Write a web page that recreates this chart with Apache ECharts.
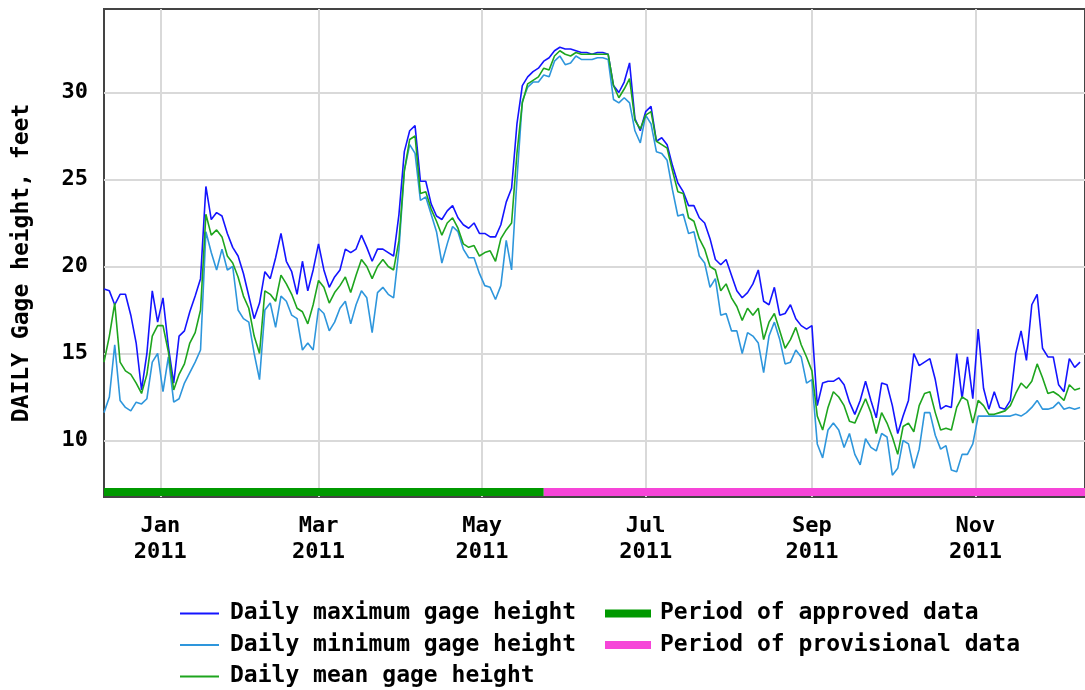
<!DOCTYPE html>
<html>
<head>
<meta charset="utf-8">
<script src="https://cdn.jsdelivr.net/npm/echarts@6/dist/echarts.min.js"></script>
<style>
  html, body { margin: 0; padding: 0; background: #fff; }
  #chart { width: 1085px; height: 690px; }
</style>
</head>
<body>
<div id="chart"></div>
<script>
// ---- Data, one value every 2 days from 2010-12-11 ----
const startYMD = [2010, 11, 11];   // 11 Dec 2010 (month is 0-based)
const stepDays = 2;

const maxGage = [
  18.7, 18.6, 17.8, 18.4, 18.4, 17.2, 15.6, 12.9, 15.0, 18.6, 16.8, 18.2, 15.4, 13.3, 16.0, 16.3, 17.4, 18.3, 19.3, 24.6,
  22.7, 23.1, 22.9, 21.9, 21.1, 20.6, 19.6, 18.3, 17.0, 17.9,
  19.7, 19.3, 20.5, 21.9, 20.3, 19.7, 18.4, 20.3, 18.6, 19.8,
  21.3, 19.8, 18.8, 19.4, 19.8, 21.0, 20.8, 21.0, 21.8, 21.1,
  20.3, 21.0, 21.0, 20.8, 20.6, 23.0, 26.6, 27.8, 28.1, 24.9,
  24.9, 23.6, 22.9, 22.7, 23.2, 23.5, 22.8, 22.4, 22.2, 22.5,
  21.9, 21.9, 21.7, 21.7, 22.4, 23.7, 24.5, 28.2, 30.4, 30.9,
  31.2, 31.4, 31.8, 32.0, 32.4, 32.6, 32.5, 32.5, 32.4, 32.3,
  32.3, 32.2, 32.3, 32.3, 32.2, 30.4, 30.0, 30.6, 31.7, 28.5,
  27.8, 28.9, 29.2, 27.2, 27.4, 27.0, 25.8, 24.8, 24.3, 23.5,
  23.5, 22.8, 22.5, 21.6, 20.4, 20.1, 20.4, 19.5, 18.6, 18.2,
  18.5, 19.0, 19.8, 18.0, 17.8, 18.8, 17.2, 17.3, 17.8, 17.0,
  16.6, 16.4, 16.6, 12.0, 13.3, 13.4, 13.4, 13.6, 13.2, 12.2,
  11.5, 12.3, 13.4, 12.3, 11.3, 13.3, 13.2, 12.0, 10.4, 11.4,
  12.3, 15.0, 14.3, 14.5, 14.7, 13.5, 11.8, 12.0, 11.9, 15.0,
  12.4, 14.8, 12.4, 16.4, 13.0, 11.8, 12.8, 11.9, 11.8, 12.3,
  15.0, 16.3, 14.6, 17.8, 18.4, 15.3, 14.8, 14.8, 13.2, 12.8,
  14.7, 14.2, 14.5
];

const minGage = [
  11.6, 12.5, 15.5, 12.3, 11.9, 11.7, 12.2, 12.1, 12.4, 14.5, 15.0, 12.8, 14.8, 12.2, 12.4, 13.3, 13.9, 14.5, 15.2, 22.0,
  20.8, 19.8, 21.0, 19.8, 20.0, 17.5, 17.0, 16.8, 15.0, 13.5,
  17.5, 17.9, 16.5, 18.3, 18.0, 17.2, 17.0, 15.2, 15.6, 15.2,
  17.6, 17.3, 16.3, 16.8, 17.6, 18.0, 16.7, 17.8, 18.6, 18.2,
  16.2, 18.5, 18.8, 18.4, 18.2, 21.0, 25.5, 27.0, 26.5, 23.8,
  24.0, 23.0, 22.0, 20.2, 21.3, 22.3, 22.0, 21.0, 20.5, 20.5,
  19.6, 18.9, 18.8, 18.1, 18.9, 21.5, 19.8, 25.0, 29.5, 30.3,
  30.6, 30.6, 31.0, 30.9, 31.8, 32.1, 31.6, 31.7, 32.1, 31.9,
  31.9, 31.9, 32.0, 32.0, 31.9, 29.6, 29.4, 29.7, 29.4, 27.8,
  27.1, 28.7, 28.2, 26.6, 26.5, 26.1, 24.4, 22.9, 23.0, 21.9,
  22.0, 20.6, 20.2, 18.8, 19.3, 17.2, 17.3, 16.3, 16.3, 15.0,
  16.2, 16.0, 15.6, 13.9, 16.0, 16.8, 15.8, 14.4, 14.5, 15.2,
  14.8, 13.3, 13.5, 9.8, 9.0, 10.6, 11.0, 10.6, 9.6, 10.4,
  9.2, 8.6, 10.1, 9.6, 9.4, 10.4, 10.2, 8.0, 8.4, 10.0,
  9.8, 8.4, 9.5, 11.6, 11.6, 10.3, 9.5, 9.7, 8.3, 8.2,
  9.2, 9.2, 9.8, 11.4, 11.4, 11.4, 11.4, 11.4, 11.4, 11.4,
  11.5, 11.4, 11.6, 11.9, 12.3, 11.8, 11.8, 11.9, 12.2, 11.8,
  11.9, 11.8, 11.9
];

const meanGage = [
  14.5, 16.0, 17.9, 14.5, 14.0, 13.8, 13.3, 12.7, 13.8, 16.0, 16.6, 16.6, 15.1, 12.9, 13.8, 14.4, 15.6, 16.2, 17.5, 23.0,
  21.8, 22.1, 21.7, 20.6, 20.2, 19.4, 18.3, 17.6, 16.0, 15.0,
  18.6, 18.4, 18.0, 19.5, 19.0, 18.4, 17.6, 17.4, 16.7, 17.8,
  19.2, 18.8, 17.9, 18.5, 18.9, 19.4, 18.5, 19.5, 20.4, 20.0,
  19.3, 20.0, 20.4, 20.0, 19.8, 21.5, 25.5, 27.3, 27.5, 24.2,
  24.3, 23.3, 22.6, 21.8, 22.5, 22.8, 22.2, 21.3, 21.1, 21.2,
  20.6, 20.8, 20.9, 20.3, 21.6, 22.1, 22.5, 26.5, 29.4, 30.5,
  30.7, 30.9, 31.4, 31.3, 32.1, 32.4, 32.2, 32.1, 32.3, 32.2,
  32.2, 32.2, 32.2, 32.2, 32.2, 30.4, 29.7, 30.2, 30.8, 28.4,
  27.9, 28.7, 28.9, 27.2, 27.0, 26.8, 25.5, 24.3, 24.2, 22.8,
  22.6, 21.6, 21.0, 20.0, 19.8, 18.6, 19.0, 18.2, 17.7, 16.9,
  17.6, 17.2, 17.6, 15.8, 16.8, 17.3, 16.3, 15.3, 15.8, 16.5,
  15.5, 14.8, 14.0, 11.4, 10.6, 11.9, 12.8, 12.5, 12.0, 11.1,
  11.0, 11.7, 12.4, 11.6, 10.4, 11.6, 11.0, 10.2, 9.2, 10.8,
  11.0, 10.5, 12.0, 12.7, 12.8, 11.6, 10.6, 10.7, 10.6, 11.9,
  12.5, 12.3, 11.0, 12.3, 12.0, 11.5, 11.5, 11.6, 11.7, 12.0,
  12.7, 13.3, 13.0, 13.4, 14.4, 13.6, 12.7, 12.8, 12.6, 12.3,
  13.2, 12.9, 13.0
];

// Data-quality periods: approved until 24 May 2011, provisional afterwards
const periodApproved = { from: [2010, 11, 11], to: [2011, 4, 24] };
const periodProvisional = { from: [2011, 4, 24], to: [2011, 11, 12] };
const periodLevel = 7.04;

// Axis ticks
const xTickDates = [[2011, 0, 1], [2011, 2, 1], [2011, 4, 1], [2011, 6, 1], [2011, 8, 1], [2011, 10, 1]];
const monthNames = ['Jan','Feb','Mar','Apr','May','Jun','Jul','Aug','Sep','Oct','Nov','Dec'];
const yTicks = [10, 15, 20, 25, 30];

const seriesNames = ['Daily maximum gage height', 'Daily minimum gage height', 'Daily mean gage height'];
const periodNames = ['Period of approved data', 'Period of provisional data'];

// ---- Build ----
const DAY = 86400000;
const ts = (ymd) => new Date(ymd[0], ymd[1], ymd[2]).getTime();
const dates = maxGage.map((_, i) => new Date(startYMD[0], startYMD[1], startYMD[2] + stepDays * i).getTime());
const pair = (arr) => arr.map((v, i) => [dates[i], v]);

const xMin = ts(startYMD);
const xMax = xMin + 365.84 * DAY;

const FONT = 'DejaVu Sans Mono';
const txt = { fontFamily: FONT, fontWeight: 'bold', fontSize: 23, color: '#000' };

const chart = echarts.init(document.getElementById('chart'), null, { renderer: 'canvas' });

chart.setOption({
  animation: false,
  backgroundColor: '#fff',
  grid: {
    left: 104, top: 9, right: -2, height: 488,
    show: true, borderColor: '#444', borderWidth: 2, backgroundColor: 'transparent'
  },
  xAxis: {
    type: 'value',
    min: xMin, max: xMax,
    axisLine: { show: false },
    axisTick: { show: false, customValues: xTickDates.map(ts) },
    splitLine: { show: true, lineStyle: { color: '#d9d9d9', width: 2 } },
    axisLabel: {
      customValues: xTickDates.map(ts),
      formatter: (v) => { const d = new Date(v); return monthNames[d.getMonth()] + '\n' + d.getFullYear(); },
      fontFamily: FONT, fontWeight: 'bold', fontSize: 22, color: '#000',
      lineHeight: 26, margin: 16, hideOverlap: false
    }
  },
  yAxis: {
    type: 'value',
    min: 6.75, max: 34.8,
    name: 'DAILY Gage height, feet',
    nameLocation: 'middle',
    nameGap: 70,
    nameTextStyle: { ...txt, padding: [0, 20, 0, 0] },
    axisLine: { show: false },
    axisTick: { show: false, customValues: yTicks },
    splitLine: { show: true, lineStyle: { color: '#d9d9d9', width: 2 } },
    axisLabel: {
      customValues: yTicks,
      fontFamily: FONT, fontWeight: 'bold', fontSize: 22, color: '#000', margin: 16
    }
  },
  legend: [
    {
      data: seriesNames,
      orient: 'vertical',
      left: 180, top: 602, bottom: 0, padding: 0,
      icon: 'rect', itemWidth: 39, itemHeight: 2, itemGap: 8.5,
      textStyle: { ...txt, lineHeight: 23, padding: [0, 0, 0, 6] },
      selectedMode: false
    },
    {
      data: periodNames,
      orient: 'vertical',
      left: 605, top: 602, bottom: 0, padding: 0,
      icon: 'rect', itemWidth: 46, itemHeight: 8, itemGap: 8.5,
      textStyle: { ...txt, lineHeight: 23, padding: [0, 0, 0, 4] },
      selectedMode: false
    }
  ],
  series: [
    { name: seriesNames[0], type: 'line', data: pair(maxGage), symbol: 'none', color: '#1414ff',
      lineStyle: { color: '#1414ff', width: 1.6 }, silent: true, z: 3 },
    { name: seriesNames[1], type: 'line', data: pair(minGage), symbol: 'none', color: '#2e96dc',
      lineStyle: { color: '#2e96dc', width: 1.6 }, silent: true, z: 4 },
    { name: seriesNames[2], type: 'line', data: pair(meanGage), symbol: 'none', color: '#1ea51e',
      lineStyle: { color: '#1ea51e', width: 1.6 }, silent: true, z: 5 },
    { name: periodNames[0], type: 'line', symbol: 'none', color: '#009900',
      data: [[ts(periodApproved.from), periodLevel], [ts(periodApproved.to), periodLevel]],
      lineStyle: { color: '#009900', width: 8, cap: 'butt' }, silent: true, z: 6 },
    { name: periodNames[1], type: 'line', symbol: 'none', color: '#f645d8',
      data: [[ts(periodProvisional.from), periodLevel], [ts(periodProvisional.to), periodLevel]],
      lineStyle: { color: '#f645d8', width: 8, cap: 'butt' }, silent: true, z: 6 }
  ]
});
</script>
</body>
</html>
